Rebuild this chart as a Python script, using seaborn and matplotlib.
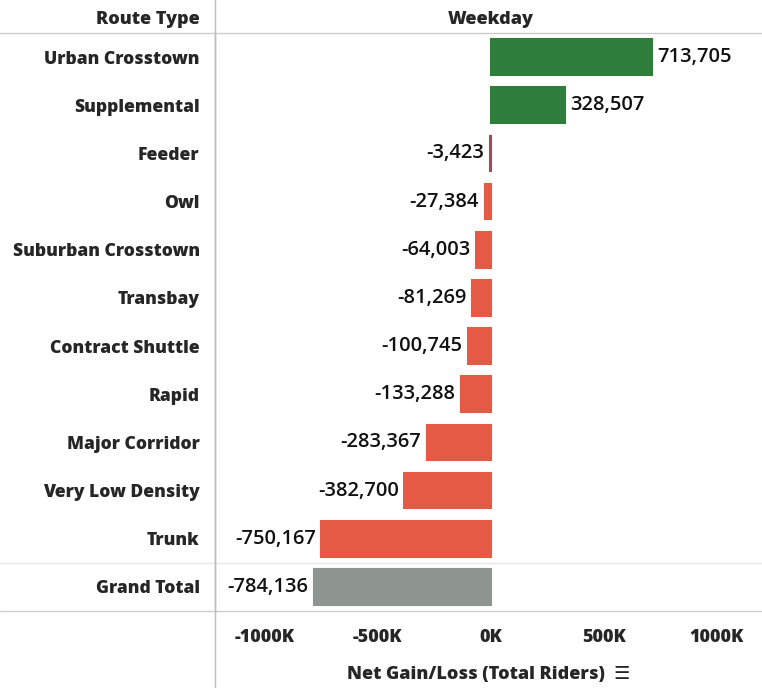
import matplotlib
matplotlib.use("Agg")
import matplotlib.pyplot as plt
import matplotlib.transforms as mtransforms
import seaborn as sns
import pandas as pd
from matplotlib.ticker import FuncFormatter

# datos
route_types = ["Urban Crosstown", "Supplemental", "Feeder", "Owl", "Suburban Crosstown",
               "Transbay", "Contract Shuttle", "Rapid", "Major Corridor",
               "Very Low Density", "Trunk", "Grand Total"]
net_gain = [713705, 328507, -3423, -27384, -64003, -81269, -100745, -133288,
            -283367, -382700, -750167, -784136]
tick_values = [-1000000, -500000, 0, 500000, 1000000]

GREEN = "#2f7d3b"
RED = "#e55a45"
GRAY = "#8e9591"
bar_colors = []
for name, v in zip(route_types, net_gain):
    if name == "Grand Total":
        bar_colors.append(GRAY)
    elif v > 0:
        bar_colors.append(GREEN)
    elif v > -10000:
        bar_colors.append("#a8475a")
    else:
        bar_colors.append(RED)

df = pd.DataFrame({"route": route_types, "value": net_gain})

sns.set_theme(style="white")
plt.rcParams["font.family"] = ["Open Sans", "DejaVu Sans"]

fig = plt.figure(figsize=(7.62, 6.88), dpi=100)
ax = fig.add_axes([215 / 762, 1 - 611 / 688, 1 - 215 / 762, (611 - 33) / 688])

sns.barplot(data=df, x="value", y="route", hue="route", palette=bar_colors,
            legend=False, width=0.74, ax=ax, orient="h", saturation=1)
# borde del mismo color para que la barra de Feeder se vea
for p in ax.patches:
    p.set_edgecolor(p.get_facecolor())
    p.set_linewidth(1.5)

ax.set_xlim(-1220000, 1200000)
ax.set_ylim(len(route_types) - 0.5, -0.5)
ax.set_xticks(tick_values)
ax.xaxis.set_major_formatter(FuncFormatter(lambda x, p: f"{int(x / 1000)}K"))
for lbl in ax.get_xticklabels():
    lbl.set_fontweight("heavy")
    lbl.set_fontsize(13)
ax.tick_params(axis="x", length=0, pad=13)
ax.tick_params(axis="y", length=0, pad=11)
for lbl in ax.get_yticklabels():
    lbl.set_fontweight("heavy")
    lbl.set_fontsize(12.6)
ax.set_ylabel("")
ax.set_xlabel("Net Gain/Loss (Total Riders)  \u2630", fontsize=13, fontweight="heavy", labelpad=14)

for s in ["top", "right", "bottom"]:
    ax.spines[s].set_visible(False)
ax.spines["left"].set_color("#bbbbbb")
ax.spines["left"].set_linewidth(1)

# etiquetas de valores
for i, v in enumerate(net_gain):
    if v >= 0:
        ax.annotate(f"{v:,}", (v, i), xytext=(4, 0), textcoords="offset points",
                    ha="left", va="center", fontsize=14.5, fontweight="semibold", color="#111111")
    else:
        ax.annotate(f"{v:,}", (v, i), xytext=(-4, 0), textcoords="offset points",
                    ha="right", va="center", fontsize=14.5, fontweight="semibold", color="#111111")

# lineas horizontales de la tabla
fig.add_artist(plt.Line2D([0, 1], [1 - 33 / 688] * 2, color="#cccccc", lw=1))
fig.add_artist(plt.Line2D([0, 1], [1 - 611 / 688] * 2, color="#cccccc", lw=1))
fig.add_artist(plt.Line2D([0, 1], [1 - 563 / 688] * 2, color="#e6e6e6", lw=1))
fig.add_artist(plt.Line2D([215 / 762] * 2, [0, 1], color="#bbbbbb", lw=1))

fig.text(200 / 762, 1 - 20 / 688, "Route Type", ha="right", va="center",
         fontsize=13, fontweight="heavy")
ax.text(0, 1 - 20 / 688, "Weekday",
        transform=mtransforms.blended_transform_factory(ax.transData, fig.transFigure),
        ha="center", va="center", fontsize=13, fontweight="heavy")

fig.savefig("out.png", dpi=100)
